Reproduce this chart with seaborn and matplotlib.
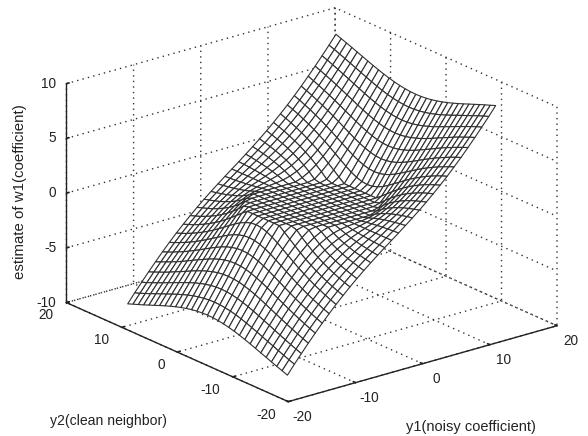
# Surface plot: estimate of w1 against noisy coefficient and clean neighbour
import numpy as np
import matplotlib
matplotlib.use("Agg")
import matplotlib.pyplot as plt
import seaborn as sns

# =======================
# Data (read off the mesh)
# =======================
# one quadrant: rows are y2 lines 0..15 out from the centre, columns are y1 lines 0..15
# the surface is mirrored in y2 and changes sign with y1
row_00 = [0, 0, 0, 0, 0, 0, 0, 0, 0.40, 1.40, 2.40, 3.40, 4.40, 5.40, 6.40, 7.40]
row_01 = [0, 0, 0, 0, 0, 0, 0, 0, 0.46, 1.45, 2.44, 3.43, 4.43, 5.42, 6.42, 7.42]
row_02 = [0, 0, 0, 0, 0, 0, 0, 0, 0.63, 1.58, 2.55, 3.52, 4.50, 5.49, 6.48, 7.47]
row_03 = [0, 0, 0, 0, 0, 0, 0, 0.01, 0.88, 1.79, 2.72, 3.67, 4.63, 5.60, 6.57, 7.55]
row_04 = [0, 0, 0, 0, 0, 0, 0, 0.40, 1.20, 2.05, 2.94, 3.86, 4.79, 5.74, 6.69, 7.66]
row_05 = [0, 0, 0, 0, 0, 0, 0.16, 0.82, 1.56, 2.36, 3.20, 4.08, 4.98, 5.91, 6.84, 7.79]
row_06 = [0, 0, 0, 0, 0, 0.13, 0.63, 1.23, 1.92, 2.68, 3.48, 4.33, 5.20, 6.10, 7.01, 7.94]
row_07 = [0, 0, 0, 0.01, 0.23, 0.58, 1.05, 1.63, 2.28, 3.00, 3.77, 4.59, 5.43, 6.31, 7.20, 8.11]
row_08 = [0, 0.06, 0.16, 0.33, 0.60, 0.97, 1.44, 2.00, 2.63, 3.32, 4.07, 4.85, 5.68, 6.53, 7.40, 8.29]
row_09 = [0, 0.16, 0.35, 0.60, 0.91, 1.31, 1.78, 2.33, 2.95, 3.63, 4.35, 5.12, 5.92, 6.75, 7.61, 8.48]
row_10 = [0, 0.24, 0.51, 0.82, 1.18, 1.60, 2.09, 2.64, 3.25, 3.92, 4.63, 5.38, 6.16, 6.98, 7.82, 8.68]
row_11 = [0, 0.31, 0.64, 1.00, 1.40, 1.86, 2.36, 2.92, 3.53, 4.19, 4.89, 5.63, 6.40, 7.20, 8.02, 8.87]
row_12 = [0, 0.37, 0.75, 1.16, 1.60, 2.08, 2.60, 3.17, 3.78, 4.44, 5.13, 5.86, 6.63, 7.42, 8.23, 9.07]
row_13 = [0, 0.42, 0.84, 1.29, 1.76, 2.27, 2.82, 3.40, 4.02, 4.67, 5.37, 6.09, 6.84, 7.63, 8.43, 9.26]
row_14 = [0, 0.46, 0.93, 1.41, 1.91, 2.44, 3.01, 3.60, 4.23, 4.89, 5.58, 6.30, 7.05, 7.83, 8.63, 9.44]
row_15 = [0, 0.49, 1.00, 1.51, 2.04, 2.60, 3.18, 3.79, 4.42, 5.09, 5.78, 6.51, 7.25, 8.02, 8.81, 9.63]

# mesh line positions, centre outwards
y1_half = [0, 1.03, 2.07, 3.10, 4.13, 5.17, 6.20, 7.23, 8.27, 9.30, 10.33, 11.37, 12.40, 13.43, 14.47, 15.50]
y2_half = [0, 0.96, 1.92, 2.88, 3.84, 4.80, 5.76, 6.72, 7.68, 8.64, 9.60, 10.56, 11.52, 12.48, 13.44, 14.40]
xy_ticks = [-20, -10, 0, 10, 20]
z_ticks = [-10, -5, 0, 5, 10]

quad = np.array([row_00, row_01, row_02, row_03, row_04, row_05, row_06, row_07,
                 row_08, row_09, row_10, row_11, row_12, row_13, row_14, row_15])

# unfold the quadrant to the whole mesh
half = np.vstack([quad[:0:-1], quad])
Z = np.hstack([-half[:, :0:-1], half])
y1_pos = np.array(y1_half)
y2_pos = np.array(y2_half)
Y1, Y2 = np.meshgrid(np.concatenate([-y1_pos[:0:-1], y1_pos]),
                     np.concatenate([-y2_pos[:0:-1], y2_pos]))

# =======================
# Plot
# =======================
sns.set_theme(style="white")
plt.rcParams["font.family"] = ["Liberation Sans", "DejaVu Sans"]
plt.rcParams["axes.unicode_minus"] = False

fig = plt.figure(figsize=(5.88, 4.36), dpi=100)
ax = fig.add_axes([11.8 / 588, 7.4 / 436, 1, 1], projection="3d", proj_type="ortho")
ax.view_init(elev=20.8, azim=-128.5)
ax.set_box_aspect((1, 1.038, 0.682), zoom=1.219)

ax.plot_surface(Y1, Y2, Z, rstride=1, cstride=1, color="white", edgecolor="#303030",
                linewidth=0.8, shade=False, antialiased=True)

ax.set_xlim(-20, 20, view_margin=0)
ax.set_ylim(-20, 20, view_margin=0)
ax.set_zlim(-10, 10, view_margin=0)
ax.set_xticks(xy_ticks)
ax.set_yticks(xy_ticks)
ax.set_zticks(z_ticks)

for axis in (ax.xaxis, ax.yaxis, ax.zaxis):
    axis.pane.set_visible(False)
    axis.line.set_color("#222222")
    axis.line.set_linewidth(1.0)
    axis._axinfo["grid"].update(color="#333333", linestyle=(0, (1, 3)), linewidth=1.0)
    axis._axinfo["tick"].update(inward_factor=0.0, outward_factor=0.12)
    axis.set_tick_params(colors="#222222", label1On=False)
ax.grid(True)

# tick labels sit closer to the axes than the 3d axis puts them
tick_style = dict(fontsize=9.8, color="#222222", va="center")
for t in xy_ticks:
    ax.text(t, -22.5, -10.8, str(t), ha="center", **tick_style)
    ax.text(-21.9, t, -10.85, str(t), ha="right", **tick_style)
for t in z_ticks:
    ax.text(-20.9, 20.7, t, str(t), ha="right", **tick_style)

fig.text(50 / 588, 1 - 425 / 436, "y2(clean neighbor)", fontsize=10.1, color="#222222")
fig.text(406 / 588, 1 - 431 / 436, "y1(noisy coefficient)", fontsize=10.5, color="#222222")
fig.text(20 / 588, 1 - 192 / 436, "estimate of w1(coefficient)", fontsize=10.8, color="#222222",
         rotation=90, ha="center", va="center")

fig.savefig("out.png", dpi=100)
